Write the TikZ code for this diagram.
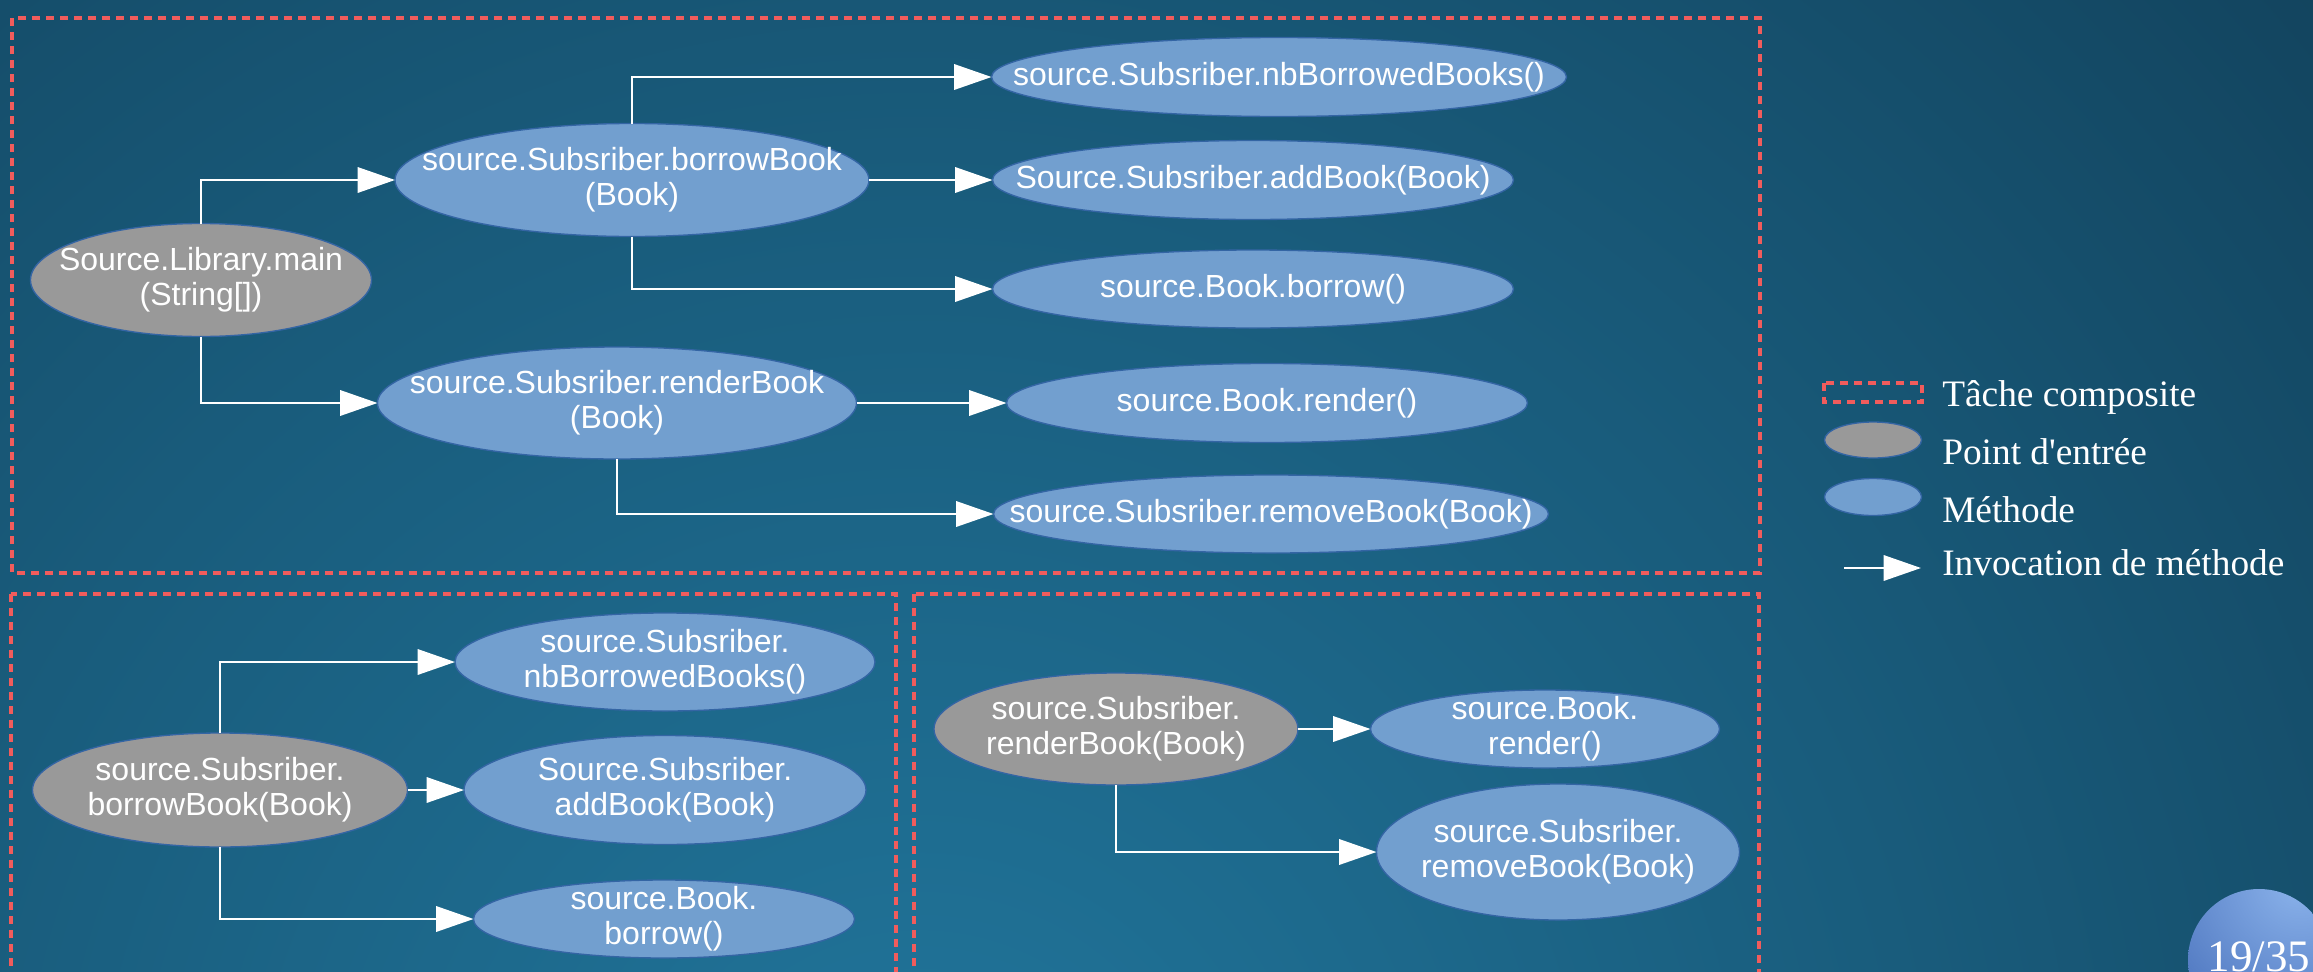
\documentclass[tikz,border=0pt]{standalone}
\usepackage{fontspec}
\setmainfont{Liberation Serif}[Ligatures=TeXOff]
\newfontfamily\arialf{Liberation Sans}
\usetikzlibrary{arrows.meta,shapes.geometric}
\newdimen\pxu \pxu=0.75pt
\definecolor{bglight}{RGB}{33,118,156}
\definecolor{bgmid}{RGB}{25,92,124}
\definecolor{bgdark}{RGB}{14,52,75}
\definecolor{boxred}{RGB}{241,92,92}
\definecolor{methfill}{RGB}{114,159,207}
\definecolor{entryfill}{RGB}{153,153,153}
\definecolor{ellline}{RGB}{52,101,164}
\definecolor{balllight}{RGB}{140,180,236}
\definecolor{balldark}{RGB}{52,92,172}
\pgfdeclareradialshading{bgshade}{\pgfpoint{0bp}{0bp}}{color(0bp)=(bglight); color(10bp)=(bgmid); color(24bp)=(bgdark); color(50bp)=(bgdark)}
\begin{document}
\begin{tikzpicture}[x=0.75pt,y=-0.75pt,
  meth/.style={ellipse, draw=ellline, fill=methfill, line width=1pt, inner sep=0pt, outer sep=0pt},
  entry/.style={meth, fill=entryfill},
  etxt/.style={text=white, font=\arialf\fontsize{24}{26.5}\selectfont, align=center, inner sep=0pt},
  arr/.style={draw=white, line width=1.7pt, -{Triangle[length=28pt,width=19pt]}},
  compbox/.style={draw=boxred, line width=2.7pt, dash pattern=on 6pt off 4.5pt},
  lgtxt/.style={text=white, font=\fontsize{28}{32}\selectfont, anchor=base west, inner sep=0pt},
]
\useasboundingbox (0,0) rectangle (2313,971);
% background
\fill[bgdark] (0,0) rectangle (2313,971);
\begin{scope}
\clip (0,0) rectangle (2313,971);
\shade[shading=bgshade] (920,1180) circle (2500);

% composite boxes
\draw[compbox] (12,18) rectangle (1760,573);
\draw[compbox] (11,594) rectangle (896,1000);
\draw[compbox] (914,594) rectangle (1759,1000);

% ---- top box ----
\node[entry, minimum width=341\pxu, minimum height=113\pxu] (main) at (201,280) {};
\node[etxt] (maint) at (main) {Source.Library.main\\(String[])};
\node[meth, minimum width=474\pxu, minimum height=113\pxu] (bb) at (632,180) {};
\node[etxt] (bbt) at (bb) {source.Subsriber.borrowBook\\(Book)};
\node[meth, minimum width=479\pxu, minimum height=112\pxu] (rb) at (617,403) {};
\node[etxt] (rbt) at (rb) {source.Subsriber.renderBook\\(Book)};
\node[meth, minimum width=575\pxu, minimum height=79\pxu] (nb) at (1279,77) {};
\node[etxt] (nbt) at (nb) {source.Subsriber.nbBorrowedBooks()};
\node[meth, minimum width=521\pxu, minimum height=79\pxu] (ab) at (1253,180) {};
\node[etxt] (abt) at (ab) {Source.Subsriber.addBook(Book)};
\node[meth, minimum width=521\pxu, minimum height=78\pxu] (bw) at (1253,289) {};
\node[etxt] (bwt) at (bw) {source.Book.borrow()};
\node[meth, minimum width=521\pxu, minimum height=79\pxu] (rn) at (1267,403) {};
\node[etxt] (rnt) at (rn) {source.Book.render()};
\node[meth, minimum width=555\pxu, minimum height=78\pxu] (rm) at (1271,514) {};
\node[etxt] (rmt) at (rm) {source.Subsriber.removeBook(Book)};

\draw[arr] (main.north) |- (bb.west);
\draw[arr] (main.south) |- (rb.west);
\draw[arr] (bb.north) |- (nb.west);
\draw[arr] (bb.east) -- (ab.west);
\draw[arr] (bb.south) |- (bw.west);
\draw[arr] (rb.east) -- (rn.west);
\draw[arr] (rb.south) |- (rm.west);

% ---- bottom-left box ----
\node[entry, minimum width=375\pxu, minimum height=114\pxu] (g1) at (220,790) {};
\node[etxt] (g1t) at (g1) {source.Subsriber.\\borrowBook(Book)};
\node[meth, minimum width=420\pxu, minimum height=98\pxu] (n2) at (665,662) {};
\node[etxt] (n2t) at (n2) {source.Subsriber.\\nbBorrowedBooks()};
\node[meth, minimum width=402\pxu, minimum height=109\pxu] (a2) at (665,790) {};
\node[etxt] (a2t) at (a2) {Source.Subsriber.\\addBook(Book)};
\node[meth, minimum width=381\pxu, minimum height=78\pxu] (b2) at (664,919) {};
\node[etxt] (b2t) at (b2) {source.Book.\\borrow()};

\draw[arr] (g1.north) |- (n2.west);
\draw[arr] (g1.east) -- (a2.west);
\draw[arr] (g1.south) |- (b2.west);

% ---- bottom-right box ----
\node[entry, minimum width=364\pxu, minimum height=112\pxu] (g2) at (1116,729) {};
\node[etxt] (g2t) at (g2) {source.Subsriber.\\renderBook(Book)};
\node[meth, minimum width=349\pxu, minimum height=78\pxu] (r2) at (1545,729) {};
\node[etxt] (r2t) at (r2) {source.Book.\\render()};
\node[meth, minimum width=363\pxu, minimum height=136\pxu] (m2) at (1558,852) {};
\node[etxt] (m2t) at (m2) {source.Subsriber.\\removeBook(Book)};

\draw[arr] (g2.east) -- (r2.west);
\draw[arr] (g2.south) |- (m2.west);

% ---- legend ----
\draw[compbox] (1824,383) rectangle (1922,402);
\node[entry, minimum width=97\pxu, minimum height=36\pxu] (lge) at (1873,440) {};
\node[meth, minimum width=97\pxu, minimum height=37\pxu] (lgm) at (1873,497) {};
\coordinate (la1) at (1844,568);
\coordinate (la2) at (1921,568);
\draw[arr] (la1) -- (la2);
\node[lgtxt] (l1) at (1942,406) {Tâche composite};
\node[lgtxt] (l2) at (1942,464) {Point d'entrée};
\node[lgtxt] (l3) at (1942,522) {Méthode};
\node[lgtxt] (l4) at (1942,575) {Invocation de méthode};

% ---- page number ----
\begin{scope}
\clip (2259,960) circle (71);
\shade[inner color=balllight, outer color=balldark] (2300,880) circle (230);
\end{scope}
\node[text=white, font=\fontsize{33.75}{36}\selectfont, anchor=base, inner sep=0pt] (pg) at (2259,971) {19/35};
\end{scope}
\end{tikzpicture}
\end{document}
